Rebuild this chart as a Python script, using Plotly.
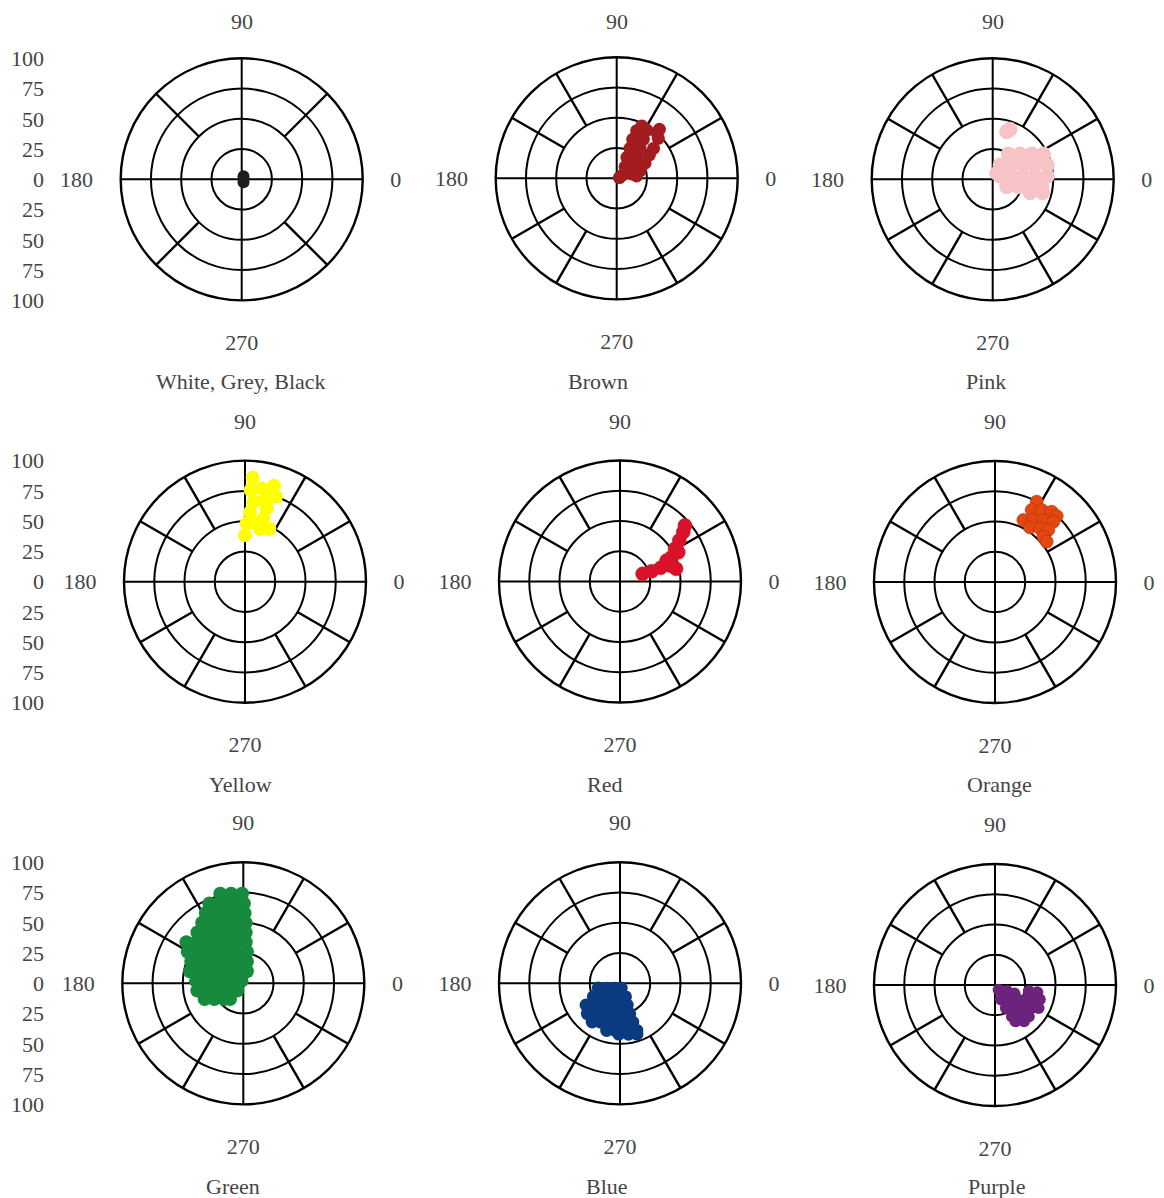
import plotly.graph_objects as go

W, H = 1164, 1198

# ---------------- data ----------------
panel_titles = ["White, Grey, Black", "Brown", "Pink", "Yellow", "Red", "Orange",
                "Green", "Blue", "Purple"]
angle_ticks = [0, 90, 180, 270]
angle_labels = ["0", "90", "180", "270"]
radial_grid = [25, 50, 75]
side_tick_vals = [-100, -75, -50, -25, 0, 25, 50, 75, 100]
side_tick_text = ["100", "75", "50", "25", "0", "25", "50", "75", "100"]

spokes_45 = [45, 135, 225, 315]
spokes_30 = [30, 60, 120, 150, 210, 240, 300, 330]

wgb_r = [1.5, 2.9, 2.9]
wgb_theta = [0, 59, 301]

brown_r = [2.3, 5.7, 12.9, 20.3, 16.6, 11.8, 18.8, 26.5, 19.3, 24.3, 33.2, 27.1, 31.4,
           39.2, 34.8, 39.0, 47.7, 42.7, 47.0, 50.2, 48.0, 53.7]
brown_theta = [15, 29, 16, 18, 6.6, 54, 36, 28, 64, 47, 35.5, 66, 52,
               39, 67.7, 55.6, 43.9, 67.3, 58, 48.7, 64.4, 48.9]

pink_r = [41.1, 43.7, 24.6, 30.8, 38.4, 46.8, 13.3, 19.6, 27.9, 36.9, 46.7, 6.7, 15.9,
          25.4, 35.1, 45.3, 13.1, 22.1, 31.5, 41.0, 32.8, 42.7, 6.0]
pink_theta = [73.6, 70.9, 58.3, 42.8, 33, 26.5, 62.7, 36.9, 25, 18.6, 14.6, 24.3, 9.9,
              6.2, 4.5, 3.5, 332.3, 344, 348.8, 351.4, 340.4, 345.1, 56]

yellow_r = [86.2, 75.9, 78.3, 82.9, 74.7, 69.5, 66.5, 57.4, 63.2, 54.5, 48.2, 48.9,
            47.9, 45.2, 38.6, 77.6]
yellow_theta = [85.8, 86.5, 79.9, 73.2, 70, 76.3, 84, 85.9, 73.5, 73.8, 88.4, 80.3,
                65.2, 74.1, 90, 73.5]

red_r = [19.7, 27.5, 35.4, 43.4, 47.5, 47.2, 52.9, 59.6, 66.3, 70.9, 53.9, 42.3]
red_theta = [18.7, 18, 18.6, 17.7, 12.8, 25.2, 30.7, 34.7, 38, 40.8, 26.7, 24.2]

orange_r = [74.8, 66.8, 70.9, 74.6, 74.6, 56.3, 60.2, 64.9, 69.4, 53.6, 57.9, 61.6,
            54.8, 54.2]
orange_theta = [62.6, 63, 57, 51.1, 46.9, 65.4, 58.2, 52.1, 46, 57.4, 50, 44.3,
                43.2, 38]

green_r = [76.4, 74.7, 74.0,
           71.7, 69.0, 67.1, 66.1, 66.0,
           65.8, 62.4, 59.9, 58.4, 58.0,
           60.5, 56.4, 53.1, 51.0, 50.0, 50.0,
           56.6, 51.6, 47.4, 44.3, 42.4, 42.0,
           58.0, 51.7, 46.0, 41.0, 37.2, 34.7, 34.1,
           52.8, 46.0, 39.7, 34.1, 29.5, 26.7, 26.2,
           46.6, 39.4, 32.4, 26.2, 21.1, 18.2, 18.2,
           45.1, 37.4, 29.7, 22.4, 15.6, 10.8, 10.4,
           39.1, 31.1, 23.1, 15.1, 7.3, 2.5,
           38.5, 30.6, 22.8, 15.2, 7.8,
           34.5, 27.3, 20.6, 17.0]
green_theta = [104.4, 97.7, 90.8,
               113, 106.9, 100.3, 93.5, 89.6,
               118.1, 111.6, 104.5, 96.9, 89,
               124.2, 117.5, 109.8, 101.3, 92.3, 87.7,
               132.1, 125.5, 117.6, 108.4, 98.1, 87.3,
               144.1, 138.9, 132.4, 124.1, 113.8, 101.6, 86.6,
               150.5, 145.6, 139.1, 130.2, 118.3, 103, 83.4,
               157.3, 152.8, 146.3, 136.5, 121.4, 99.5, 80.5,
               167.2, 164.5, 160.3, 153.4, 140.2, 111.8, 73.3,
               177.1, 176.3, 175, 172.4, 164, 126.9,
               189, 191.3, 195.3, 203.2, 230.2,
               202.1, 208.4, 219.1, 229.8]

blue_r = [18.4, 11.7, 5.7, 4.1,
          24.6, 18.6, 13.6, 11.0, 11.9,
          33.3, 27.7, 22.8, 19.3, 18.0, 19.0,
          36.8, 32.0, 28.2, 25.7, 25.0, 26.2,
          39.4, 35.8, 33.2, 32.1, 32.4, 33.7,
          40.5, 39.2, 39.1, 40.3, 41.4,
          42.0, 42.6, 44.3]
blue_theta = [192.5, 200, 225, 284,
              206.6, 216.3, 234, 264.8, 292.2,
              212.7, 220.6, 232.1, 248.7, 270, 288.4,
              222.8, 231.3, 242.5, 256.5, 272.3, 287.7,
              234.3, 243.4, 254.3, 266.4, 278.9, 288.2,
              254.2, 264.1, 274.4, 284.4, 289.7,
              268.6, 279.5, 288.4]

purple_r = [5, 11.2, 17.5, 28.4, 35.5, 13, 17, 22.5, 28.6, 35.1, 38.9, 21, 24.8, 29.8,
            35.5, 40.7, 29.5, 33.4, 38.2, 34.5, 38.4]
purple_theta = [306.9, 333.4, 336.4, 349.9, 350.3, 292.6, 315, 327.7, 335.2, 340, 342,
                295.3, 310.1, 320.4, 327.7, 332.2, 298.3, 308.9, 317.1, 299.5, 308.7]

series = [
    (wgb_r, wgb_theta, "#1e1e1e", 12),
    (brown_r, brown_theta, "#a31c1f", 13),
    (pink_r, pink_theta, "#f6c3c6", 15),
    (yellow_r, yellow_theta, "#ffff00", 14),
    (red_r, red_theta, "#dc0f2d", 14),
    (orange_r, orange_theta, "#e4470f", 13),
    (green_r, green_theta, "#178a3e", 14),
    (blue_r, blue_theta, "#0b3a80", 13),
    (purple_r, purple_theta, "#6b237c", 12),
]

# ---------------- layout geometry (page pixels) ----------------
OFF = 8  # default body margin of the html page
centers = [(241.7, 179.3), (616.7, 178.3), (992.7, 179.3),
           (245.0, 581.7), (620.0, 581.5), (995.0, 582.0),
           (243.3, 983.3), (620.0, 983.3), (995.0, 985.0)]
R = 121
title_pos = [(241, 381), (598, 381), (986, 381),
             (240, 784), (604, 784), (999, 784),
             (233, 1186), (607, 1186), (996, 1186)]
TOP_LABEL_Y = 22  # "90" labels of the top row, kept inside the page

FONT = "Liberation Serif"
TXT = "#454545"
FS = 22
LW = 2.4


def px_x(x):
    return (x - OFF) / W


def px_y(y):
    return 1 - (y - OFF) / H


fig = go.Figure()
layout = dict(
    width=W, height=H, paper_bgcolor="white", plot_bgcolor="white",
    margin=dict(l=0, r=0, t=0, b=0, pad=0, autoexpand=False), showlegend=False,
    font=dict(family=FONT, size=FS, color=TXT),
)
annotations = []

for i, (cx, cy) in enumerate(centers):
    name = "polar" if i == 0 else f"polar{i + 1}"
    labels = list(angle_labels)
    if i < 3:
        labels[angle_ticks.index(90)] = ""
        annotations.append(dict(text=angle_labels[angle_ticks.index(90)],
                                x=px_x(cx), y=px_y(TOP_LABEL_Y),
                                xref="paper", yref="paper", showarrow=False,
                                xanchor="center", yanchor="middle",
                                font=dict(family=FONT, size=FS, color=TXT)))
    layout[name] = dict(
        domain=dict(x=[px_x(cx - R), px_x(cx + R)], y=[px_y(cy + R), px_y(cy - R)]),
        bgcolor="white",
        radialaxis=dict(range=[0, 100], tickvals=radial_grid, showticklabels=False,
                        ticks="", showline=False, gridcolor="black", gridwidth=LW),
        angularaxis=dict(tickvals=angle_ticks, ticktext=labels,
                         direction="counterclockwise", rotation=0,
                         gridcolor="black", gridwidth=LW,
                         showline=True, linecolor="black", linewidth=LW,
                         ticks="outside", ticklen=22, tickcolor="rgba(0,0,0,0)",
                         tickfont=dict(family=FONT, size=FS, color=TXT)),
    )
    spokes = spokes_45 if i == 0 else spokes_30
    sr, st = [], []
    for a in spokes:
        sr += [50, 100, None]
        st += [a, a, None]
    fig.add_trace(go.Scatterpolar(r=sr, theta=st, mode="lines", subplot=name,
                                  line=dict(color="black", width=LW),
                                  hoverinfo="skip", connectgaps=False))
    r, th, col, sz = series[i]
    mline = dict(width=0)
    if col in ("#e4470f", "#dc0f2d"):
        mline = dict(width=0.6, color="#b3300a")
    fig.add_trace(go.Scatterpolar(r=r, theta=th, mode="markers", subplot=name,
                                  marker=dict(color=col, size=sz, line=mline)))

# side radial scales for the left column
for k, row in enumerate([0, 3, 6]):
    cx, cy = centers[row]
    xa = "xaxis" if k == 0 else f"xaxis{k + 1}"
    ya = "yaxis" if k == 0 else f"yaxis{k + 1}"
    xr = "x" if k == 0 else f"x{k + 1}"
    yr = "y" if k == 0 else f"y{k + 1}"
    layout[xa] = dict(domain=[px_x(45), px_x(50)], visible=False, range=[0, 1])
    layout[ya] = dict(domain=[px_y(cy + R), px_y(cy - R)], anchor=xr,
                      range=[-100, 100], tickvals=side_tick_vals, ticktext=side_tick_text,
                      showgrid=False, zeroline=False, showline=False, ticks="",
                      automargin=False,
                      tickfont=dict(family=FONT, size=FS, color=TXT))
    fig.add_trace(go.Scatter(x=[0.5], y=[0], xaxis=xr, yaxis=yr, mode="markers",
                             marker=dict(opacity=0), hoverinfo="skip"))

annotations += [
    dict(text=t, x=px_x(px), y=px_y(py), xref="paper", yref="paper",
         showarrow=False, xanchor="center", yanchor="middle",
         font=dict(family=FONT, size=FS, color=TXT))
    for t, (px, py) in zip(panel_titles, title_pos)
]
layout["annotations"] = annotations

fig.update_layout(**layout)
fig.write_html("out.html")
